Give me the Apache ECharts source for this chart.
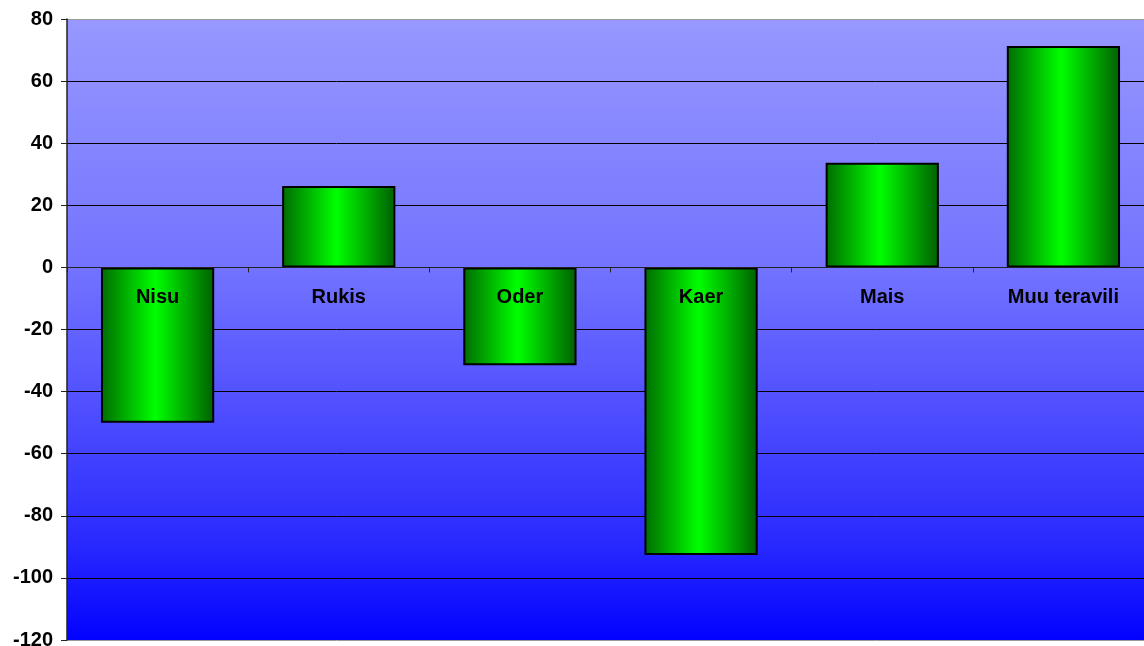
<!DOCTYPE html>
<html>
<head>
<meta charset="utf-8">
<script src="https://cdn.jsdelivr.net/npm/echarts@6/dist/echarts.min.js"></script>
<style>
html,body{margin:0;padding:0;background:#fff;}
#chart{width:1144px;height:646px;}
</style>
</head>
<body>
<div id="chart"></div>
<script>
const categories = ['Nisu', 'Rukis', 'Oder', 'Kaer', 'Mais', 'Muu teravili'];
const values = [-50, 26.2, -31.5, -92.6, 33.7, 71.3];
const yTicks = { min: -120, max: 80, interval: 20 };

const chart = echarts.init(document.getElementById('chart'), null, { renderer: 'canvas' });
const splitColors = [];
for (let v = yTicks.min; v <= yTicks.max; v += yTicks.interval) {
  splitColors.push(v === yTicks.min || v === yTicks.max ? '#9a9a9a' : '#000000');
}
const labelFont = {
  color: '#000',
  fontFamily: 'Liberation Sans, Arial, sans-serif',
  fontWeight: 'bold',
  fontSize: 20
};
chart.setOption({
  animation: false,
  backgroundColor: '#ffffff',
  grid: {
    left: 67, right: -10, top: 19, bottom: 6,
    outerBoundsMode: 'none',
    containLabel: false,
    show: true,
    borderWidth: 0,
    backgroundColor: {
      type: 'linear', x: 0, y: 0, x2: 0, y2: 1,
      colorStops: [
        { offset: 0, color: '#9898ff' },
        { offset: 0.4, color: '#7373ff' },
        { offset: 0.62, color: '#5050ff' },
        { offset: 0.84, color: '#2a2aff' },
        { offset: 1, color: '#0202ff' }
      ]
    }
  },
  xAxis: {
    type: 'category',
    data: categories,
    z: 10,
    axisLine: { onZero: true, lineStyle: { color: '#222', width: 1 } },
    axisTick: { show: true, alignWithLabel: false, length: 5, lineStyle: { color: '#222' } },
    axisLabel: { show: false },
    splitLine: { show: false }
  },
  yAxis: {
    type: 'value',
    min: yTicks.min, max: yTicks.max, interval: yTicks.interval,
    axisLine: { show: true, lineStyle: { color: '#222', width: 1.5 } },
    axisTick: { show: true, length: 6, lineStyle: { color: '#222' } },
    axisLabel: Object.assign({ margin: 14 }, labelFont),
    splitLine: { show: true, lineStyle: { color: splitColors, width: 1 } }
  },
  series: [{
    type: 'bar',
    data: values,
    barWidth: '62.5%',
    itemStyle: {
      borderColor: '#000',
      borderWidth: 2,
      color: {
        type: 'linear', x: 0, y: 0, x2: 1, y2: 0,
        colorStops: [
          { offset: 0, color: '#006c00' },
          { offset: 0.48, color: '#00ff00' },
          { offset: 1, color: '#005f00' }
        ]
      }
    }
  }, {
    type: 'scatter',
    data: categories.map(() => 0),
    symbolSize: 0,
    z: 20,
    silent: true,
    itemStyle: { opacity: 1 },
    label: Object.assign({
      show: true,
      position: 'bottom',
      distance: 20,
      opacity: 1,
      formatter: (p) => categories[p.dataIndex]
    }, labelFont)
  }]
});
</script>
</body>
</html>
